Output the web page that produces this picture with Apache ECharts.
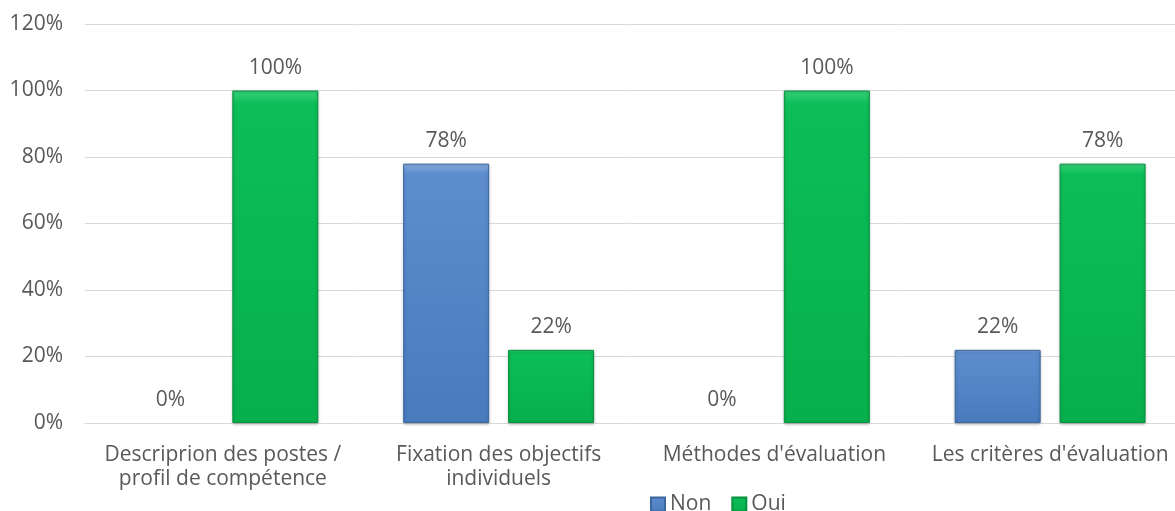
<!DOCTYPE html>
<html>
<head>
<meta charset="utf-8">
<script src="https://cdn.jsdelivr.net/npm/echarts@6/dist/echarts.min.js"></script>
<style>html,body{margin:0;padding:0;background:#fff}#c{width:1175px;height:511px}</style>
</head>
<body>
<div id="c"></div>
<script>
const categories = ["Descriprion des postes /\nprofil de compétence", "Fixation des objectifs\nindividuels", "Méthodes d'évaluation", "Les critères d'évaluation"];
const nonValues = [0, 78, 0, 22];
const ouiValues = [100, 22, 100, 78];
const yTicks = [0, 20, 40, 60, 80, 100, 120];

const FONT = "'Open Sans', 'Noto Sans', sans-serif";
const TXT = '#595959';
const FS = 21;

function grad(top, mid, bottom) {
  return new echarts.graphic.LinearGradient(0, 0, 0, 1, [
    {offset: 0, color: top}, {offset: 0.04, color: mid}, {offset: 0.96, color: bottom}, {offset: 1, color: bottom}
  ]);
}
function toData(values) {
  return values.map(v => v === 0
    ? {value: v, itemStyle: {borderWidth: 0, shadowBlur: 0, opacity: 0}}
    : {value: v});
}

const chart = echarts.init(document.getElementById('c'));
chart.setOption({
  animation: false,
  textStyle: {fontFamily: FONT},
  grid: {left: 85, top: 24, width: 1103, height: 399, containLabel: false, outerBoundsMode: 'none'},
  legend: {
    data: ['Non', 'Oui'],
    left: 650, top: 494, padding: 0,
    itemWidth: 14, itemHeight: 14, itemGap: 20,
    icon: 'rect',
    textStyle: {color: TXT, fontSize: FS, fontFamily: FONT, padding: [0, 0, 0, 0]}
  },
  xAxis: {
    type: 'category',
    data: categories,
    axisLine: {lineStyle: {color: '#d9d9d9'}},
    axisTick: {show: false},
    axisLabel: {color: TXT, fontSize: FS, lineHeight: 24, margin: 20, fontFamily: FONT, interval: 0}
  },
  yAxis: {
    type: 'value', min: 0, max: 120, interval: 20,
    axisLine: {show: false}, axisTick: {show: false},
    splitLine: {lineStyle: {color: '#d9d9d9'}},
    axisLabel: {color: TXT, fontSize: FS, margin: 22, fontFamily: FONT, formatter: v => yTicks.includes(v) ? v + '%' : ''}
  },
  series: [
    {
      name: 'Non', type: 'bar', data: toData(nonValues), barWidth: 86, barGap: '22%',
      itemStyle: {color: grad('#86acdf', '#5d8dcd', '#4a7bbf'), borderColor: '#3b679f', borderWidth: 1,
        shadowColor: 'rgba(0,0,0,0.25)', shadowBlur: 3, shadowOffsetY: 1},
      label: {show: true, position: 'top', distance: 12, color: TXT, fontSize: FS, fontFamily: FONT, opacity: 1,
        formatter: p => p.value + '%'}
    },
    {
      name: 'Oui', type: 'bar', data: toData(ouiValues), barWidth: 86,
      itemStyle: {color: grad('#38d27b', '#0cbe58', '#07b04c'), borderColor: '#07913e', borderWidth: 1,
        shadowColor: 'rgba(0,0,0,0.25)', shadowBlur: 3, shadowOffsetY: 1},
      label: {show: true, position: 'top', distance: 12, color: TXT, fontSize: FS, fontFamily: FONT,
        formatter: p => p.value + '%'}
    }
  ]
});
</script>
</body>
</html>
